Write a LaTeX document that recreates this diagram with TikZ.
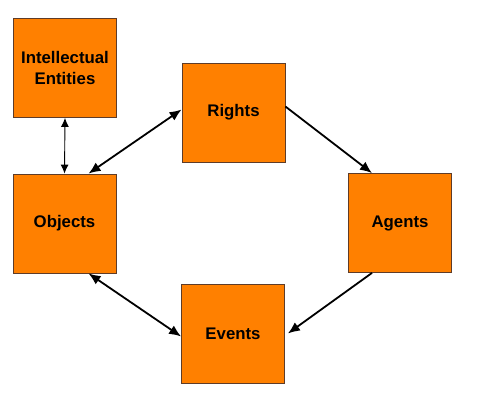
\documentclass[tikz,border=0pt]{standalone}
\usepackage{fontspec}
\setmainfont{Liberation Sans}
\usetikzlibrary{arrows.meta}
\definecolor{boxfill}{RGB}{255,128,0}
\definecolor{boxline}{RGB}{95,60,40}
\tikzset{
  box/.style={draw=boxline, line width=0.8pt, fill=boxfill, minimum width=103pt, minimum height=99pt, inner sep=0pt, align=center, font=\fontsize{16.8}{21.5}\selectfont\bfseries},
  conn/.style={line width=1.8pt, draw=black, -{Latex[length=12pt,width=10pt]}},
  bconn/.style={line width=1.8pt, draw=black, {Latex[length=12pt,width=10pt]}-{Latex[length=12pt,width=10pt]}},
  thinconn/.style={line width=0.9pt, draw=black, {Latex[length=9pt,width=8pt]}-{Latex[length=9pt,width=8pt]}}
}
\begin{document}
\begin{tikzpicture}[x=1pt,y=1pt]
\useasboundingbox (0,0) rectangle (495,400);
\fill[white] (0,0) rectangle (495,400);
\node[box] (ie) at (65,332) {Intellectual\\Entities};
\node[box] (rights) at (233.5,287.5) {Rights};
\node[box] (agents) at (400,177) {Agents};
\node[box] (events) at (233,66.5) {Events};
\node[box] (objects) at (64.5,176.5) {Objects};
\draw[thinconn] (ie.south) -- (objects.north);
\draw[bconn] ([xshift=24pt]objects.north) -- ([yshift=3pt]rights.west);
\draw[conn] ([yshift=6pt]rights.east) -- ([xshift=-28pt]agents.north);
\draw[conn] ([xshift=-28pt]agents.south) -- ([xshift=3pt]events.east);
\draw[bconn] ([xshift=24pt]objects.south) -- ([yshift=-3pt]events.west);
\end{tikzpicture}
\end{document}
